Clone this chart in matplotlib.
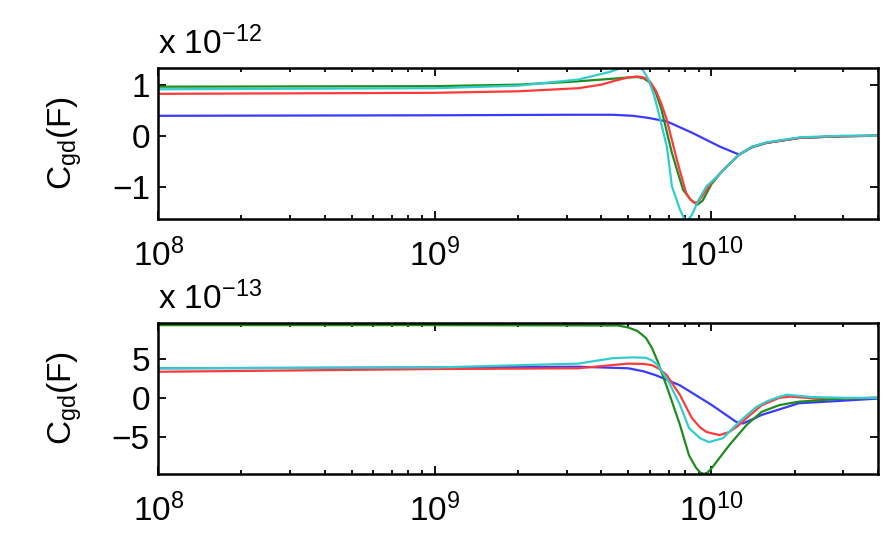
import matplotlib
matplotlib.use("Agg")
import matplotlib.pyplot as plt
from matplotlib.ticker import LogLocator, NullFormatter

plt.rcParams['font.family'] = ['Liberation Sans', 'DejaVu Sans']
plt.rcParams['mathtext.fontset'] = 'custom'
plt.rcParams['mathtext.rm'] = 'Liberation Sans'
plt.rcParams['mathtext.it'] = 'Liberation Sans:italic'

# ---- top panel (units of 1e-12 F) ----
f_blue1 = [1e8, 1e9, 3e9, 4.4e9, 5.2e9, 5.9e9, 6.9e9, 8.5e9, 1.07e10, 1.26e10, 1.4e10, 1.58e10, 2.1e10, 3e10, 4e10]
c_blue1 = [0.39, 0.40, 0.41, 0.41, 0.39, 0.35, 0.28, 0.06, -0.21, -0.37, -0.23, -0.14, -0.04, -0.01, 0.0]

f_red1 = [1e8, 1e9, 2e9, 3.3e9, 4.0e9, 4.5e9, 5.0e9, 5.4e9, 5.7e9, 6.0e9, 6.3e9, 6.6e9, 6.9e9, 7.5e9, 8.1e9, 8.4e9, 8.7e9, 9.0e9, 1.0e10, 1.1e10, 1.26e10, 1.4e10, 1.58e10, 2.1e10, 3e10, 4e10]
c_red1 = [0.82, 0.84, 0.87, 0.93, 1.0, 1.08, 1.14, 1.16, 1.14, 1.06, 0.88, 0.62, 0.31, -0.47, -1.12, -1.25, -1.32, -1.28, -0.92, -0.68, -0.37, -0.22, -0.14, -0.04, -0.01, 0.0]

f_green1 = [1e8, 1e9, 2e9, 3.2e9, 4.5e9, 5.0e9, 5.4e9, 5.7e9, 6.0e9, 6.3e9, 6.6e9, 7.2e9, 7.9e9, 8.4e9, 8.9e9, 9.3e9, 1.0e10, 1.1e10, 1.26e10, 1.4e10, 1.58e10, 2.1e10, 3e10, 4e10]
c_green1 = [0.96, 0.97, 1.0, 1.06, 1.12, 1.14, 1.15, 1.12, 1.04, 0.84, 0.51, -0.34, -1.06, -1.25, -1.35, -1.27, -0.95, -0.68, -0.37, -0.22, -0.14, -0.04, -0.01, 0.0]

f_cyan1 = [1e8, 1e9, 2e9, 3.3e9, 4.3e9, 4.8e9, 5.2e9, 5.6e9, 5.9e9, 6.2e9, 6.4e9, 6.9e9, 7.2e9, 7.7e9, 8.1e9, 8.5e9, 9.0e9, 9.6e9, 1.05e10, 1.15e10, 1.26e10, 1.4e10, 1.58e10, 2.1e10, 3e10, 4e10]
c_cyan1 = [0.91, 0.93, 0.98, 1.10, 1.25, 1.34, 1.40, 1.32, 1.12, 0.80, 0.51, -0.21, -0.99, -1.45, -1.70, -1.55, -1.25, -0.99, -0.80, -0.58, -0.37, -0.22, -0.13, -0.03, 0.0, 0.0]

# ---- bottom panel (units of 1e-13 F) ----
f_blue2 = [1e8, 1e9, 3.3e9, 5.0e9, 5.7e9, 6.3e9, 7.7e9, 1.0e10, 1.23e10, 1.3e10, 1.4e10, 1.52e10, 1.87e10, 2.07e10, 2.9e10, 4e10]
c_blue2 = [3.8, 3.9, 4.0, 3.8, 3.4, 2.9, 1.6, -0.9, -3.1, -3.3, -2.8, -2.2, -1.2, -0.7, -0.4, -0.1]

f_red2 = [1e8, 1e9, 3.3e9, 5.0e9, 5.7e9, 6.1e9, 6.5e9, 6.9e9, 7.7e9, 8.5e9, 9.1e9, 9.6e9, 1.07e10, 1.16e10, 1.25e10, 1.34e10, 1.52e10, 1.76e10, 1.92e10, 2.2e10, 2.5e10, 4e10]
c_red2 = [3.35, 3.7, 3.8, 4.4, 4.35, 4.2, 3.7, 2.9, 0.35, -2.6, -3.8, -4.4, -4.8, -4.4, -3.6, -2.6, -0.95, 0.0, 0.15, 0.0, -0.15, 0.0]

f_green2 = [1e8, 1e9, 4.6e9, 5.0e9, 5.4e9, 5.8e9, 6.1e9, 6.4e9, 7.0e9, 7.7e9, 8.3e9, 8.8e9, 9.1e9, 9.4e9, 9.7e9, 1.0e10, 1.16e10, 1.34e10, 1.52e10, 1.76e10, 2.07e10, 3e10, 4e10]
c_green2 = [9.35, 9.35, 9.3, 9.05, 8.6, 7.7, 6.4, 4.65, 0.8, -3.5, -7.4, -9.0, -9.6, -9.8, -9.6, -9.1, -6.1, -3.5, -1.8, -0.94, -0.5, -0.1, 0.0]

f_cyan2 = [1e8, 1e9, 3.3e9, 4.4e9, 5.2e9, 5.8e9, 6.1e9, 6.4e9, 7.0e9, 7.7e9, 8.3e9, 9.1e9, 9.8e9, 1.1e10, 1.26e10, 1.45e10, 1.6e10, 1.76e10, 1.87e10, 2.3e10, 3e10, 4e10]
c_cyan2 = [3.8, 3.9, 4.4, 5.1, 5.2, 5.15, 4.8, 4.2, 2.1, -0.9, -3.9, -5.2, -5.7, -5.2, -3.1, -1.2, -0.4, 0.13, 0.4, 0.1, 0.0, 0.0]

ylims = [(-1.63, 1.33), (-9.8, 9.65)]
yticks = [[-1, 0, 1], [-5, 0, 5]]
exps = ['12', '13']

fig = plt.figure(figsize=(8.94, 5.38), dpi=100)
ax1 = fig.add_axes([0.177, 0.593, 0.805, 0.281])
ax2 = fig.add_axes([0.177, 0.119, 0.805, 0.281])

col_b = '#3a3aff'
col_r = '#ff3a3a'
col_g = '#1e8c1e'
col_c = '#33cccc'
lw = 1.6

ax1.plot(f_blue1, c_blue1, color=col_b, lw=lw)
ax1.plot(f_green1, c_green1, color=col_g, lw=lw)
ax1.plot(f_red1, c_red1, color=col_r, lw=lw)
ax1.plot(f_cyan1, c_cyan1, color=col_c, lw=lw)

ax2.plot(f_blue2, c_blue2, color=col_b, lw=lw)
ax2.plot(f_red2, c_red2, color=col_r, lw=lw)
ax2.plot(f_green2, c_green2, color=col_g, lw=lw)
ax2.plot(f_cyan2, c_cyan2, color=col_c, lw=lw)

fs = 24
for i, ax in enumerate([ax1, ax2]):
    ax.set_xscale('log')
    ax.set_xlim(1e8, 4e10)
    ax.set_ylim(ylims[i])
    ax.set_yticks(yticks[i])
    ax.set_yticklabels([str(t).replace('-', '\u2212') for t in yticks[i]])
    ax.xaxis.set_major_locator(LogLocator(base=10, numticks=10))
    ax.xaxis.set_minor_locator(LogLocator(base=10, subs=range(2, 10), numticks=20))
    ax.xaxis.set_minor_formatter(NullFormatter())
    ax.tick_params(which='both', direction='in', top=True, right=True, labelsize=fs, width=1.3)
    ax.tick_params(which='major', length=6)
    ax.tick_params(axis='x', which='major', pad=14)
    ax.tick_params(axis='y', which='major', pad=6)
    ax.tick_params(which='minor', length=3)
    for s in ax.spines.values():
        s.set_linewidth(1.8)
    ax.set_ylabel(r'C$_{\mathregular{gd}}$(F)', fontsize=fs, labelpad=20)
    ax.text(0.0, 1.09, 'x 10$^{\\mathregular{\u2212' + exps[i] + '}}$', transform=ax.transAxes,
            fontsize=fs, ha='left', va='baseline')

fig.savefig('out.png', dpi=100)
